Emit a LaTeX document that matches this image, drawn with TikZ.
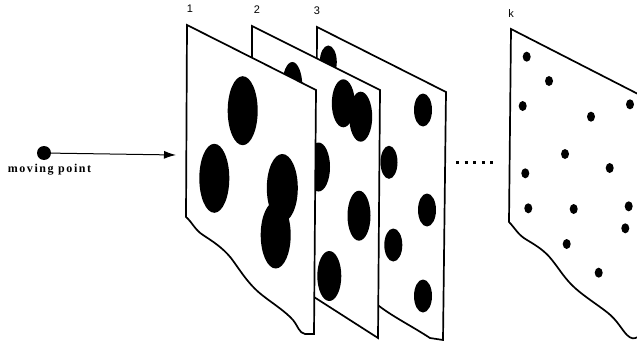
\documentclass[tikz,border=0pt]{standalone}
\usepackage{fontspec}
\setmainfont{Liberation Serif}
\newfontfamily\labfont{Liberation Sans}
\newfontfamily\mplabfont[LetterSpace=13]{Liberation Serif}
\usetikzlibrary{arrows.meta}
\tikzset{
  sheet/.style={draw=black,fill=white,line width=1.7pt,line join=miter},
  blob/.style={fill=black,draw=none},
  sheetlabel/.style={font=\labfont\fontsize{11}{12}\selectfont,inner sep=0pt,text=black},
}
\newcommand{\blobat}[4]{\fill[blob] (#1,#2) ellipse [x radius=#3,y radius=#4];}
\begin{document}
\begin{tikzpicture}[x=1pt,y=-1pt]
\useasboundingbox (0,0) rectangle (637,345);
% sheet 3
\path[sheet] (317,27) -- (446,92) -- (443,340) -- (430,338)
  .. controls (410,325) and (395,318) .. (379,306) -- (316,240) -- cycle;
\blobat{328.3}{62}{8.5}{16.5}
\blobat{423}{110}{9}{16.5}
\blobat{389}{162.3}{8.5}{16.5}
\blobat{427}{210}{9}{16.5}
\blobat{393.3}{245}{9}{16.5}
\blobat{423}{296}{9}{16.5}
% sheet 2
\path[sheet] (252,26) -- (380,90) -- (378,338) -- (314,297) -- (252,230) -- cycle;
\blobat{292.3}{86}{10}{24}
\blobat{343.3}{103.3}{11.5}{24}
\blobat{360.7}{116.7}{11.5}{25}
\blobat{318.5}{167}{11.5}{24.5}
\blobat{359}{215.7}{11.5}{25}
\blobat{329.3}{276}{12}{25}
% sheet 1
\path[sheet] (187,25) -- (316,90) -- (314,334) -- (305,334)
  .. controls (299,333) and (298,326) .. (293,320)
  .. controls (285,311) and (272,303) .. (262,295)
  .. controls (248,284) and (240,270) .. (231,258)
  .. controls (222,247) and (212,241) .. (203,235)
  .. controls (195,230) and (192,222) .. (186,217) -- cycle;
\blobat{242.7}{110.7}{15}{34.5}
\blobat{214.3}{178.3}{15}{34.5}
\blobat{282.3}{188}{15.5}{34}
\blobat{275.7}{235}{15}{33.5}
% sheet k
\path[sheet] (638,94) -- (511,29) -- (509,222)
  .. controls (515,228) and (518,235) .. (527,240)
  .. controls (537,246) and (545,251) .. (552,260)
  .. controls (560,270) and (565,279) .. (575,288)
  .. controls (585,297) and (598,305) .. (608,313)
  .. controls (617,320) and (622,330) .. (627,335)
  .. controls (631,339) and (634,339) .. (638,337);
\foreach \px/\py in {526.7/56.7,549/81,522.7/106,591/116.7,630/104.3,565/154,609.7/168,525.3/173.3,528.3/208.3,573.7/209,628.7/206.3,625.3/228.3,566.7/244,598.7/272.7}
  \blobat{\px}{\py}{4}{5};
% dots between sheets
\coordinate (gapL) at (456,162.7);
\coordinate (gapR) at (493,162.7);
\draw[line width=2.6pt,dash pattern=on 3pt off 5.6pt] (gapL) -- (gapR);
% moving point
\node[circle,fill=black,minimum size=14pt,inner sep=0pt] (mp) at (44,153) {};
\coordinate (target) at (176,155);
\draw[line width=1pt,-{Latex[length=12pt,width=8pt]}] (mp.center) -- (target);
\node[font=\mplabfont\fontsize{12}{13}\selectfont\bfseries,inner sep=0pt] (mplabel) at (49.5,170) {moving point};
% labels
\node[sheetlabel] (l1) at (190,9) {1};
\node[sheetlabel] (l2) at (257,10) {2};
\node[sheetlabel] (l3) at (317,11) {3};
\node[sheetlabel] (lk) at (511,14) {k};
\end{tikzpicture}
\end{document}
